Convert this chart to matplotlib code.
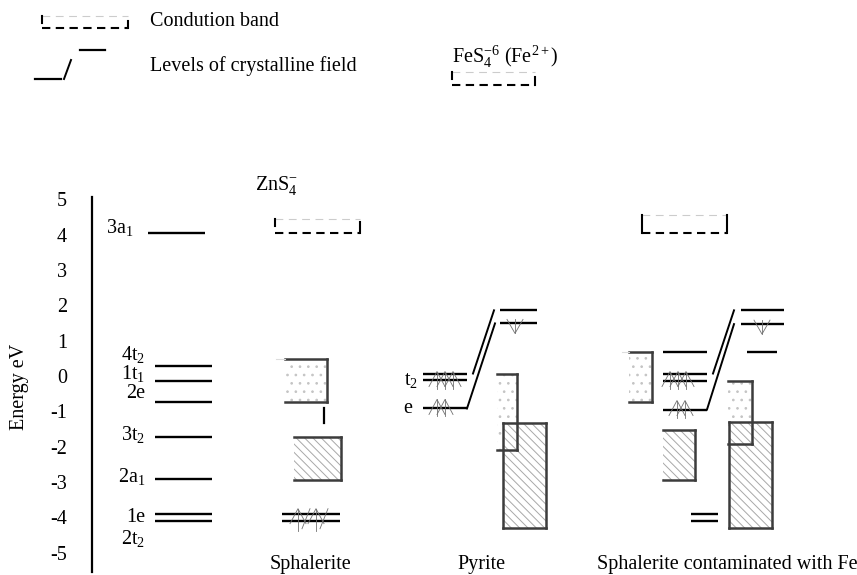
import matplotlib
matplotlib.use("Agg")
import matplotlib.pyplot as plt
from matplotlib.patches import Rectangle

plt.rcParams['font.family'] = ['Liberation Serif', 'DejaVu Serif']
plt.rcParams['font.size'] = 14.5
plt.rcParams['mathtext.fontset'] = 'custom'
plt.rcParams['mathtext.rm'] = 'Liberation Serif'
plt.rcParams['mathtext.it'] = 'Liberation Serif:italic'
plt.rcParams['hatch.linewidth'] = 0.7

# molecular orbital levels of the ZnS4 cluster (eV)
mo_labels = ['3a$_1$', '4t$_2$', '1t$_1$', '2e', '3t$_2$', '2a$_1$', '1e', '2t$_2$']
mo_energy = [4.05, 0.27, -0.13, -0.73, -1.73, -2.92, -3.9, -4.1]
mo_label_y = [4.2, 0.62, 0.08, -0.5, -1.67, -2.86, -4.02, -4.59]

# sphalerite
sph_cb = (4.05, 4.45)
sph_dotted = (-0.75, 0.47)
sph_gap = (-1.34, -0.92)
sph_hatched = (-2.95, -1.73)
sph_core = [-3.9, -4.1]

# pyrite
pyr_t2 = [0.07, -0.12]
pyr_e = -0.92
pyr_upper = [1.86, 1.49]
pyr_dotted = (-2.1, 0.07)
pyr_hatched = (-4.32, -1.33)

# sphalerite contaminated with Fe
con_cb = (4.05, 4.55)
con_dotted_left = (-0.75, 0.68)
con_levels = [0.68, 0.07, -0.15, -0.95]
con_upper = [1.86, 1.47]
con_upper_short = 0.68
con_hatched_small = (-2.95, -1.52)
con_dotted_right = (-1.94, -0.13)
con_hatched_right = (-4.32, -1.3)
con_core = [-3.9, -4.1]

yticks = [5, 4, 3, 2, 1, 0, -1, -2, -3, -4, -5]

PX = 1 / 35.3          # one pixel in eV
BORDER = '#3c3c3c'
HATCH = '#a8a8a8'
DOTS = '#c4c4c4'
SPIN = '#707070'


def level(ax, x0, x1, e, lw=1.7):
    ax.plot([x0, x1], [e, e], color='black', lw=lw, solid_capstyle='butt')


def band(ax, x0, x1, lo, hi, pattern, sides):
    col = DOTS if pattern == '..' else HATCH
    ax.add_patch(Rectangle((x0, lo), x1 - x0, hi - lo, hatch=pattern,
                           facecolor='white', edgecolor=col, lw=0))
    seg = {'t': ([x0, x1], [hi, hi]), 'b': ([x0, x1], [lo, lo]),
           'r': ([x1, x1], [lo, hi]), 'l': ([x0, x0], [lo, hi])}
    for s in sides:
        ax.plot(*seg[s], color=BORDER, lw=1.8, solid_capstyle='projecting')


def dashed_box(ax, x0, x1, top, bottom, left_part, right_part):
    ax.plot([x0, x1], [top, top], color='#cccccc', lw=0.8, ls=(0, (7, 5)))
    ax.plot([x0, x1], [bottom, bottom], color='black', lw=1.5, ls=(0, (4, 2.6)))
    ax.plot([x0, x0], [top, top + (bottom - top) * left_part], color='black', lw=1.5)
    ax.plot([x1, x1], [bottom, bottom - (bottom - top) * right_part], color='black', lw=1.5)


def spin_up(ax, x, peak, depth=17):
    ax.plot([x - 8, x, x + 8], [peak - 15 * PX, peak, peak - 15 * PX], color=SPIN, lw=0.6)
    ax.plot([x, x], [peak, peak - depth * PX], color=SPIN, lw=0.6)


def spin_down(ax, x, top):
    ax.plot([x - 8, x, x + 8], [top, top - 14 * PX, top], color=SPIN, lw=0.6)
    ax.plot([x, x], [top, top - 14 * PX], color=SPIN, lw=0.6)


fig = plt.figure(figsize=(8.57, 5.75), dpi=100)
ax = fig.add_axes([0, 0, 1, 1])
ax.set_xlim(0, 857)
ax.set_ylim((376 - 575) * PX, 376 * PX)
for s in ['top', 'right', 'bottom']:
    ax.spines[s].set_visible(False)
ax.spines['left'].set_position(('data', 92))
ax.spines['left'].set_bounds((376 - 572) * PX, (376 - 197) * PX)
ax.spines['left'].set_linewidth(1.6)
ax.set_xticks([])
ax.set_yticks(yticks)
ax.set_yticklabels([str(t) for t in yticks])
ax.tick_params(axis='y', length=0, pad=18, labelsize=14.5)
ax.patch.set_visible(False)

ax.text(20, -0.3, 'Energy eV', rotation=90, ha='center', va='center')

# MO levels
for lab, e, ly in zip(mo_labels, mo_energy, mo_label_y):
    if lab == '3a$_1$':
        level(ax, 148, 205, e)
        ax.text(133, ly, lab, ha='right', va='center')
    else:
        level(ax, 155, 212, e)
        ax.text(145, ly, lab, ha='right', va='center')

# sphalerite
ax.text(255, 5.4, 'ZnS$_4^{-}$', ha='left', va='center')
dashed_box(ax, 275, 360, sph_cb[1], sph_cb[0], 0.5, 0.8)
band(ax, 285, 327, sph_dotted[0], sph_dotted[1], '..', 'trb')
ax.plot([276, 285], [sph_dotted[1]] * 2, color='#dddddd', lw=0.8)
ax.plot([324, 324], sph_gap, color='black', lw=1.6)
band(ax, 294, 341, sph_hatched[0], sph_hatched[1], '\\\\\\\\', 'trb')
for e in sph_core:
    level(ax, 282, 340, e)
for x in [298, 316]:
    spin_up(ax, x, sph_core[0] + 5 * PX, depth=22)
    ax.plot([x + 4, x + 12], [sph_core[1] - 8 * PX, sph_core[0] + 5 * PX], color=SPIN, lw=0.6)
ax.text(311, -5.35, 'Sphalerite', ha='center', va='center')

# pyrite
for e in pyr_t2:
    level(ax, 423, 467, e)
level(ax, 423, 467, pyr_e)
for x in [437, 445, 453]:
    spin_up(ax, x, pyr_t2[0] + 2 * PX)
for x in [437, 445]:
    spin_up(ax, x, pyr_e + 9 * PX)
ax.text(418, pyr_t2[1], 't$_2$', ha='right', va='center')
ax.text(412, pyr_e, 'e', ha='right', va='center')
ax.plot([473, 494], [pyr_t2[0], pyr_upper[0]], color='black', lw=1.4)
ax.plot([467, 495], [pyr_e, pyr_upper[1]], color='black', lw=1.4)
for e in pyr_upper:
    level(ax, 500, 537, e)
spin_down(ax, 515, pyr_upper[1] + 4 * PX)
band(ax, 497, 517, pyr_dotted[0], pyr_dotted[1], '..', 'trb')
band(ax, 503, 546, pyr_hatched[0], pyr_hatched[1], '\\\\\\\\', 'tlrb')
ax.text(482, -5.35, 'Pyrite', ha='center', va='center')

# sphalerite contaminated with Fe
dashed_box(ax, 642, 727, con_cb[1], con_cb[0], 1.0, 1.0)
band(ax, 629, 652, con_dotted_left[0], con_dotted_left[1], '..', 'trb')
ax.plot([622, 629], [con_dotted_left[1]] * 2, color='#dddddd', lw=0.8)
for e in con_levels:
    level(ax, 663, 707, e)
for x in [670, 678, 686]:
    spin_up(ax, x, con_levels[1] + 2 * PX)
for x in [677, 685]:
    spin_up(ax, x, con_levels[3] + 9 * PX)
ax.plot([713, 734], [con_levels[1], con_upper[0]], color='black', lw=1.4)
ax.plot([707, 734], [con_levels[3], con_upper[1]], color='black', lw=1.4)
for e in con_upper:
    level(ax, 741, 784, e)
level(ax, 747, 777, con_upper_short)
spin_down(ax, 762, con_upper[1] + 4 * PX)
band(ax, 663, 695, con_hatched_small[0], con_hatched_small[1], '\\\\\\\\', 'trb')
band(ax, 728, 752, con_dotted_right[0], con_dotted_right[1], '..', 'trb')
band(ax, 729, 772, con_hatched_right[0], con_hatched_right[1], '\\\\\\\\', 'tlrb')
for e in con_core:
    level(ax, 691, 718, e)
ax.text(727, -5.35, 'Sphalerite contaminated with Fe', ha='center', va='center')

# legend area (pixel coordinates)
lax = fig.add_axes([0, 0, 1, 1])
lax.set_xlim(0, 857)
lax.set_ylim(575, 0)
lax.axis('off')
dashed_box(lax, 42, 128, 16, 28, 0.6, 0.6)
lax.text(150, 21, 'Condution band', ha='left', va='center')
lax.plot([35, 61], [79, 79], color='black', lw=1.6)
lax.plot([64, 71], [79, 60], color='black', lw=1.4)
lax.plot([80, 105], [50, 50], color='black', lw=1.6)
lax.text(150, 66, 'Levels of crystalline field', ha='left', va='center')
lax.text(452, 57, 'FeS$_4^{-6}$ (Fe$^{2+}$)', ha='left', va='center')
dashed_box(lax, 452, 535, 72, 85, 0.5, 0.6)

fig.savefig('out.png', dpi=100)
